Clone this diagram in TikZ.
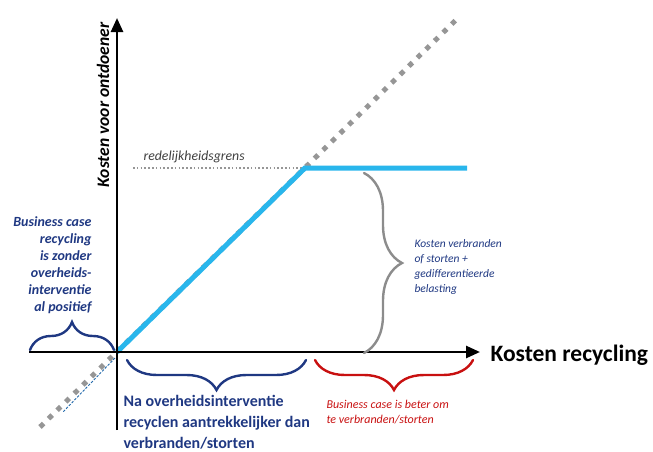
\documentclass[tikz,border=0pt]{standalone}
\usepackage{fontspec}
\setmainfont{Carlito}
\usetikzlibrary{arrows.meta,decorations.pathreplacing}
\definecolor{navy}{RGB}{31,56,130}
\definecolor{skyline}{RGB}{41,182,236}
\definecolor{dotgray}{RGB}{150,150,150}
\definecolor{bracegray}{RGB}{140,140,140}
\definecolor{darkred}{RGB}{200,16,16}
\tikzset{
    axis/.style={line width=2.6pt, -{Triangle[length=14pt,width=12pt]}},
    bracepath/.style={line width=2.4pt, line cap=round, decorate, decoration={brace,amplitude=#1}},
}
\begin{document}
\begin{tikzpicture}[x=1pt,y=-1pt]
\useasboundingbox (0,0) rectangle (653,451);
% points
\coordinate (o) at (117,352);
\coordinate (xl) at (29,352);
\coordinate (xr) at (480,352);
\coordinate (yb) at (117,430);
\coordinate (yt) at (117,18);
\coordinate (dl) at (40,427);
\coordinate (dr) at (458,18);
\coordinate (bend) at (305,168);
\coordinate (flatend) at (467,168);
\coordinate (grensl) at (133,168);
\coordinate (thinl) at (63,412);
\coordinate (thino) at (115,358);
% lines
\draw[dotgray, line width=5pt, dash pattern=on 5pt off 7pt] (dl) -- (dr);
\draw[navy!60!skyline, line width=0.9pt, dash pattern=on 2.5pt off 1.5pt] (thino) -- (thinl);
\draw[dotgray, line width=1.6pt, dash pattern=on 1.6pt off 2.2pt] (grensl) -- (bend);
\draw[skyline, line width=5pt] (o) -- (bend) -- (flatend);
\draw[axis] (xl) -- (xr);
\draw[axis] (yb) -- (yt);
% braces
\draw[navy, bracepath=28pt] (30,350) -- (114,350);
\draw[navy, bracepath=30pt] (306,360) -- (127,360);
\draw[darkred, bracepath=30pt] (473,360) -- (315,360);
\draw[bracegray, bracepath=38pt] (364,173) -- (364,353);
% labels
\node[rotate=90, font=\bfseries\itshape\fontsize{17.5}{17.5}\selectfont] (ylab) at (103,105) {Kosten voor ontdoener};
\node[anchor=west, font=\bfseries\fontsize{23.5}{23.5}\selectfont] (xlab) at (487,355) {Kosten recycling};
\node[anchor=west, text=black!75, font=\itshape\fontsize{13.8}{13.8}\selectfont] (grens) at (140,157) {redelijkheidsgrens};
\node[anchor=east, align=right, text=navy, font=\bfseries\itshape\fontsize{14}{17}\selectfont] (bcpos) at (95,265) {Business case\\recycling\\is zonder\\overheids-\\interventie\\al positief};
\node[anchor=west, align=left, text=navy, font=\bfseries\fontsize{16}{21}\selectfont] (na) at (120,422) {Na overheidsinterventie\\recyclen aantrekkelijker dan\\verbranden/storten};
\node[anchor=west, align=left, text=darkred, font=\itshape\fontsize{12}{15.5}\selectfont] (beter) at (323,412) {Business case is beter om\\te verbranden/storten};
\node[anchor=west, align=left, text=navy, font=\itshape\fontsize{11.5}{15}\selectfont] (kosten) at (411,267) {Kosten verbranden\\of storten +\\gedifferentieerde\\belasting};
\end{tikzpicture}
\end{document}
